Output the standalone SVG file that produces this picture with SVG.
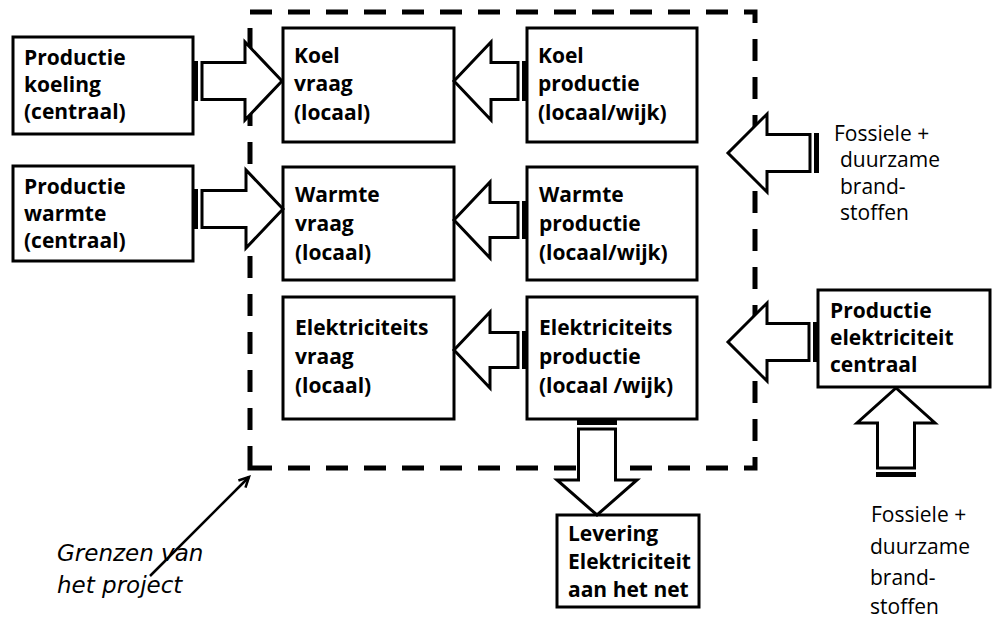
<svg xmlns="http://www.w3.org/2000/svg" width="993" height="620" viewBox="0 0 993 620">
  <style>
    .box { fill: #ffffff; stroke: #000000; stroke-width: 3; }
    .lbl { font-family: "Open Sans", "Liberation Sans", sans-serif; font-weight: bold; font-size: 21px; fill: #000000; }
    .txt { font-family: "Open Sans", "Liberation Sans", sans-serif; font-size: 21px; fill: #000000; }
    .ital { font-family: "DejaVu Sans", "Open Sans", sans-serif; font-style: italic; font-size: 23px; fill: #000000; }
    .body { fill: #ffffff; stroke: #000000; stroke-width: 3; stroke-linejoin: miter; }
    .stripe { fill: #000000; }
    .bound { fill: none; stroke: #000000; stroke-width: 5; stroke-dasharray: 22 16; }
    .pointer { fill: none; stroke: #000000; stroke-width: 2.5; }
  </style>
  <defs>
    <marker id="tip" markerUnits="userSpaceOnUse" markerWidth="14" markerHeight="14" refX="11" refY="6" orient="auto">
      <path d="M1,1 L11,6 L1,11" fill="none" stroke="#000000" stroke-width="2.5"/>
    </marker>
  </defs>

  <rect width="993" height="620" fill="#ffffff"/>

  <!-- project boundary -->
  <g id="boundary">
    <path class="bound" d="M250,468 H755 V12 H250 Z"/>
  </g>

  <!-- central production, left -->
  <g id="prod-koeling">
    <rect class="box" x="13" y="37" width="180" height="97"/>
    <text class="lbl" x="24" y="65">Productie</text>
    <text class="lbl" x="24" y="92">koeling</text>
    <text class="lbl" x="24" y="119">(centraal)</text>
  </g>
  <g id="prod-warmte">
    <rect class="box" x="13" y="166" width="180" height="95"/>
    <text class="lbl" x="24" y="194">Productie</text>
    <text class="lbl" x="24" y="221">warmte</text>
    <text class="lbl" x="24" y="248">(centraal)</text>
  </g>

  <!-- local demand -->
  <g id="koel-vraag">
    <rect class="box" x="283" y="28" width="171" height="114"/>
    <text class="lbl" x="294" y="63">Koel</text>
    <text class="lbl" x="294" y="91">vraag</text>
    <text class="lbl" x="294" y="120">(locaal)</text>
  </g>
  <g id="warmte-vraag">
    <rect class="box" x="283" y="167" width="171" height="113"/>
    <text class="lbl" x="295" y="202">Warmte</text>
    <text class="lbl" x="295" y="231">vraag</text>
    <text class="lbl" x="295" y="260">(locaal)</text>
  </g>
  <g id="elek-vraag">
    <rect class="box" x="283" y="297" width="171" height="122"/>
    <text class="lbl" x="295" y="335">Elektriciteits</text>
    <text class="lbl" x="295" y="364">vraag</text>
    <text class="lbl" x="295" y="393">(locaal)</text>
  </g>

  <!-- local production -->
  <g id="koel-productie">
    <rect class="box" x="527" y="28" width="170" height="114"/>
    <text class="lbl" x="538" y="63">Koel</text>
    <text class="lbl" x="538" y="91">productie</text>
    <text class="lbl" x="538" y="120">(locaal/wijk)</text>
  </g>
  <g id="warmte-productie">
    <rect class="box" x="527" y="167" width="170" height="113"/>
    <text class="lbl" x="539" y="202">Warmte</text>
    <text class="lbl" x="539" y="231">productie</text>
    <text class="lbl" x="539" y="260">(locaal/wijk)</text>
  </g>
  <g id="elek-productie">
    <rect class="box" x="527" y="297" width="170" height="122"/>
    <text class="lbl" x="539" y="335">Elektriciteits</text>
    <text class="lbl" x="539" y="364">productie</text>
    <text class="lbl" x="539" y="393">(locaal /wijk)</text>
  </g>

  <!-- central electricity production, right -->
  <g id="prod-elektriciteit">
    <rect class="box" x="818" y="290" width="172" height="97"/>
    <text class="lbl" x="830" y="318">Productie</text>
    <text class="lbl" x="830" y="345">elektriciteit</text>
    <text class="lbl" x="830" y="372">centraal</text>
  </g>

  <!-- grid delivery -->
  <g id="levering">
    <rect class="box" x="557" y="515" width="142" height="92"/>
    <text class="lbl" x="568" y="541">Levering</text>
    <text class="lbl" x="568" y="569">Elektriciteit</text>
    <text class="lbl" x="568" y="597">aan het net</text>
  </g>

  <!-- fuel inputs -->
  <g id="brandstof-boven">
    <text class="txt" x="834" y="141">Fossiele +</text>
    <text class="txt" x="840" y="167">duurzame</text>
    <text class="txt" x="840" y="194">brand-</text>
    <text class="txt" x="840" y="220">stoffen</text>
  </g>
  <g id="brandstof-onder">
    <text class="txt" x="871" y="522">Fossiele +</text>
    <text class="txt" x="870" y="554">duurzame</text>
    <text class="txt" x="870" y="585">brand-</text>
    <text class="txt" x="870" y="614">stoffen</text>
  </g>

  <g id="grenzen-label">
    <text class="ital" x="57" y="561">Grenzen van</text>
    <text class="ital" x="57" y="593">het project</text>
  </g>

  <!-- striped block arrows: local frame has the tail at x=0, pointing along +x -->
  <g id="connectors">
    <g transform="translate(193,81)">
      <rect class="stripe" x="0" y="-20" width="5" height="40"/>
      <path class="body" d="M9,-18.5 H52 V-39 L89,0 L52,39 V18.5 H9 Z"/>
    </g>
    <g transform="translate(193,209)">
      <rect class="stripe" x="0" y="-20" width="5" height="40"/>
      <path class="body" d="M9,-18.5 H53 V-39 L90,0 L53,39 V18.5 H9 Z"/>
    </g>
    <g transform="translate(527,81) rotate(180)">
      <rect class="stripe" x="0" y="-20" width="5" height="40"/>
      <path class="body" d="M9,-18.5 H36 V-39 L73,0 L36,39 V18.5 H9 Z"/>
    </g>
    <g transform="translate(527,220) rotate(180)">
      <rect class="stripe" x="0" y="-19" width="5" height="38"/>
      <path class="body" d="M9,-17.5 H37 V-38 L73,0 L37,38 V17.5 H9 Z"/>
    </g>
    <g transform="translate(527,350) rotate(180)">
      <rect class="stripe" x="0" y="-19" width="5" height="38"/>
      <path class="body" d="M9,-17.5 H37 V-38 L73,0 L37,38 V17.5 H9 Z"/>
    </g>
    <g transform="translate(819,153) rotate(180)">
      <rect class="stripe" x="0" y="-20" width="5" height="40"/>
      <path class="body" d="M9,-18.5 H52 V-39 L91,0 L52,39 V18.5 H9 Z"/>
    </g>
    <g transform="translate(818,342) rotate(180)">
      <rect class="stripe" x="0" y="-20" width="5" height="40"/>
      <path class="body" d="M9,-18.5 H51 V-39 L90,0 L51,39 V18.5 H9 Z"/>
    </g>
    <g transform="translate(597,420) rotate(90)">
      <rect class="stripe" x="0" y="-20" width="5" height="40"/>
      <path class="body" d="M9,-18.5 H60 V-40 L95,0 L60,40 V18.5 H9 Z"/>
    </g>
    <g transform="translate(896,477) rotate(-90)">
      <rect class="stripe" x="0" y="-20" width="5" height="40"/>
      <path class="body" d="M9,-18.5 H54 V-39 L89,0 L54,39 V18.5 H9 Z"/>
    </g>
    <line class="pointer" x1="150" y1="576" x2="249" y2="477" marker-end="url(#tip)"/>
  </g>
</svg>
